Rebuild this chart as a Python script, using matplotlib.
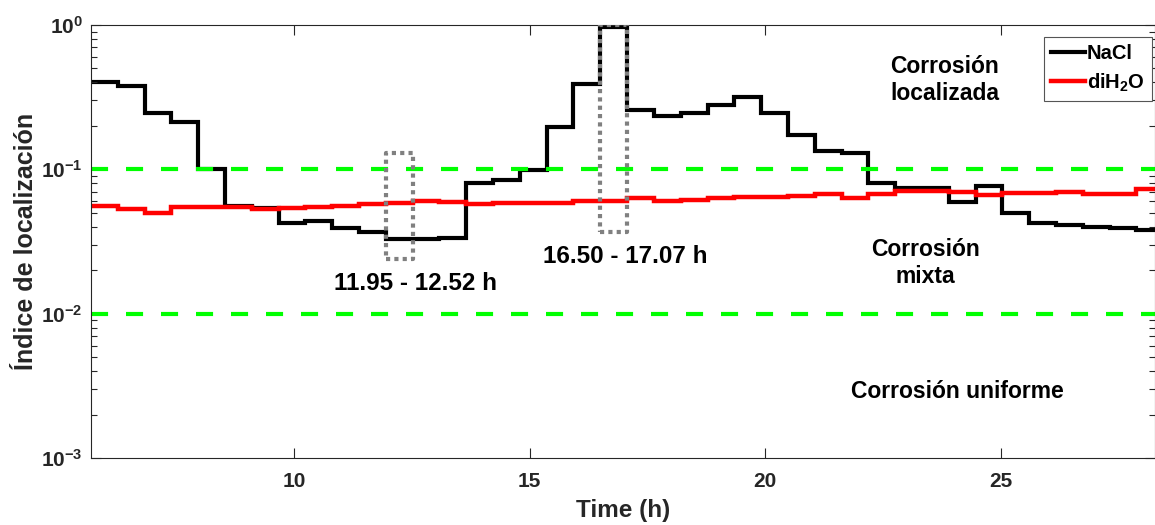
import numpy as np
import matplotlib.pyplot as plt
from matplotlib.lines import Line2D
from matplotlib.ticker import FixedLocator, LogLocator, NullFormatter, FuncFormatter

plt.rcParams['font.family'] = ['Liberation Sans', 'DejaVu Sans']
plt.rcParams['font.weight'] = 'bold'
plt.rcParams['mathtext.fontset'] = 'custom'
plt.rcParams['mathtext.rm'] = 'Liberation Sans:bold'
plt.rcParams['mathtext.bf'] = 'Liberation Sans:bold'
plt.rcParams['mathtext.it'] = 'Liberation Sans:bold'
plt.rcParams['mathtext.default'] = 'bf'

# time grid: one value per interval (h)
t_start = 5.694
dt = 0.56875

nacl = [0.40, 0.38, 0.247, 0.214, 0.100, 0.0557, 0.0537, 0.0425, 0.044, 0.039,
        0.037, 0.0327, 0.0327, 0.0336, 0.081, 0.0843, 0.099, 0.195, 0.388, 0.97,
        0.258, 0.234, 0.244, 0.279, 0.319, 0.247, 0.173, 0.135, 0.129, 0.080,
        0.074, 0.074, 0.0597, 0.077, 0.0496, 0.0428, 0.041, 0.040, 0.039, 0.0378]
dih2o = [0.0559, 0.0528, 0.0496, 0.0545, 0.0545, 0.0545, 0.0528, 0.0543, 0.0545, 0.0555,
         0.0574, 0.0580, 0.0606, 0.0596, 0.0572, 0.0585, 0.058, 0.0587, 0.0603, 0.0603,
         0.0629, 0.0604, 0.0613, 0.0629, 0.0645, 0.0645, 0.0654, 0.067, 0.063, 0.067,
         0.0706, 0.0706, 0.070, 0.0663, 0.0682, 0.0682, 0.070, 0.067, 0.068, 0.0725]

edges = t_start + dt * np.arange(len(nacl) + 1)

# thresholds and highlighted windows
limits = [0.1, 0.01]
win1 = (11.95, 12.52, 0.0238, 0.130)
win2 = (16.50, 17.07, 0.037, 1.0)

fig = plt.figure(figsize=(11.55, 5.25), dpi=100)
ax = fig.add_axes([91/1155, 1-458/525, (1155-91)/1155, 433/525])

ax.stairs(nacl, edges, color='black', lw=3, baseline=None)
ax.stairs(dih2o, edges, color='#ff0000', lw=3.2, baseline=None)

for v in limits:
    ax.axhline(v, color='#00ff00', lw=3, ls=(0, (4.1, 4.3)))

for x0, x1, y0, y1 in (win1, win2):
    ax.plot([x0, x1, x1, x0, x0], [y0, y0, y1, y1, y0], color='#808080',
            lw=3, ls=(0, (1, 1)), zorder=5)

ax.set_yscale('log')
ax.set_xlim(5.694, 28.27)
ax.set_ylim(1e-3, 1)

ax.xaxis.set_major_locator(FixedLocator([10, 15, 20, 25]))
ax.yaxis.set_major_locator(LogLocator(base=10, numticks=10))
ax.yaxis.set_minor_locator(LogLocator(base=10, subs=np.arange(2, 10), numticks=20))
ax.yaxis.set_minor_formatter(NullFormatter())
ax.yaxis.set_major_formatter(FuncFormatter(lambda v, p: r'$10^{%d}$' % round(np.log10(v))))

ax.tick_params(which='both', direction='in', top=True, right=True, colors='#262626',
               labelsize=15, width=0.8)
ax.tick_params(which='major', length=7)
ax.tick_params(axis='x', which='major', pad=10)
ax.tick_params(axis='y', which='major', pad=6)
ax.tick_params(which='minor', length=4)
for s in ax.spines.values():
    s.set_color('#262626')
    s.set_linewidth(0.8)

ax.set_xlabel('Time (h)', fontsize=17.5, fontweight='bold', color='#262626', labelpad=6)
ax.set_ylabel('Índice de localización', fontsize=18, fontweight='bold', color='#262626', labelpad=2)

ax.text(12.57, 0.0163, '11.95 - 12.52 h', fontsize=17.5, fontweight='bold', ha='center', va='center')
ax.text(17.02, 0.0247, '16.50 - 17.07 h', fontsize=17.5, fontweight='bold', ha='center', va='center')
ax.text(23.81, 0.416, 'Corrosión\nlocalizada', fontsize=16.5, fontweight='bold', ha='center', va='center', linespacing=1.2)
ax.text(23.39, 0.0225, 'Corrosión\nmixta', fontsize=16.5, fontweight='bold', ha='center', va='center', linespacing=1.2)
ax.text(24.07, 0.00288, 'Corrosión uniforme', fontsize=16.5, fontweight='bold', ha='center', va='center')

leg_handles = [Line2D([], [], color='black', lw=3), Line2D([], [], color='#ff0000', lw=3.2)]
leg = ax.legend(leg_handles, ['NaCl', 'diH$_2$O'], loc='upper right', bbox_to_anchor=(0.997, 0.972),
                borderaxespad=0, fontsize=14.5, handlelength=1.7, handletextpad=0.1,
                labelspacing=0.4, borderpad=0.35, fancybox=False, framealpha=1,
                edgecolor='#555555')
leg.get_frame().set_linewidth(0.8)

fig.savefig('out.png', dpi=100)
